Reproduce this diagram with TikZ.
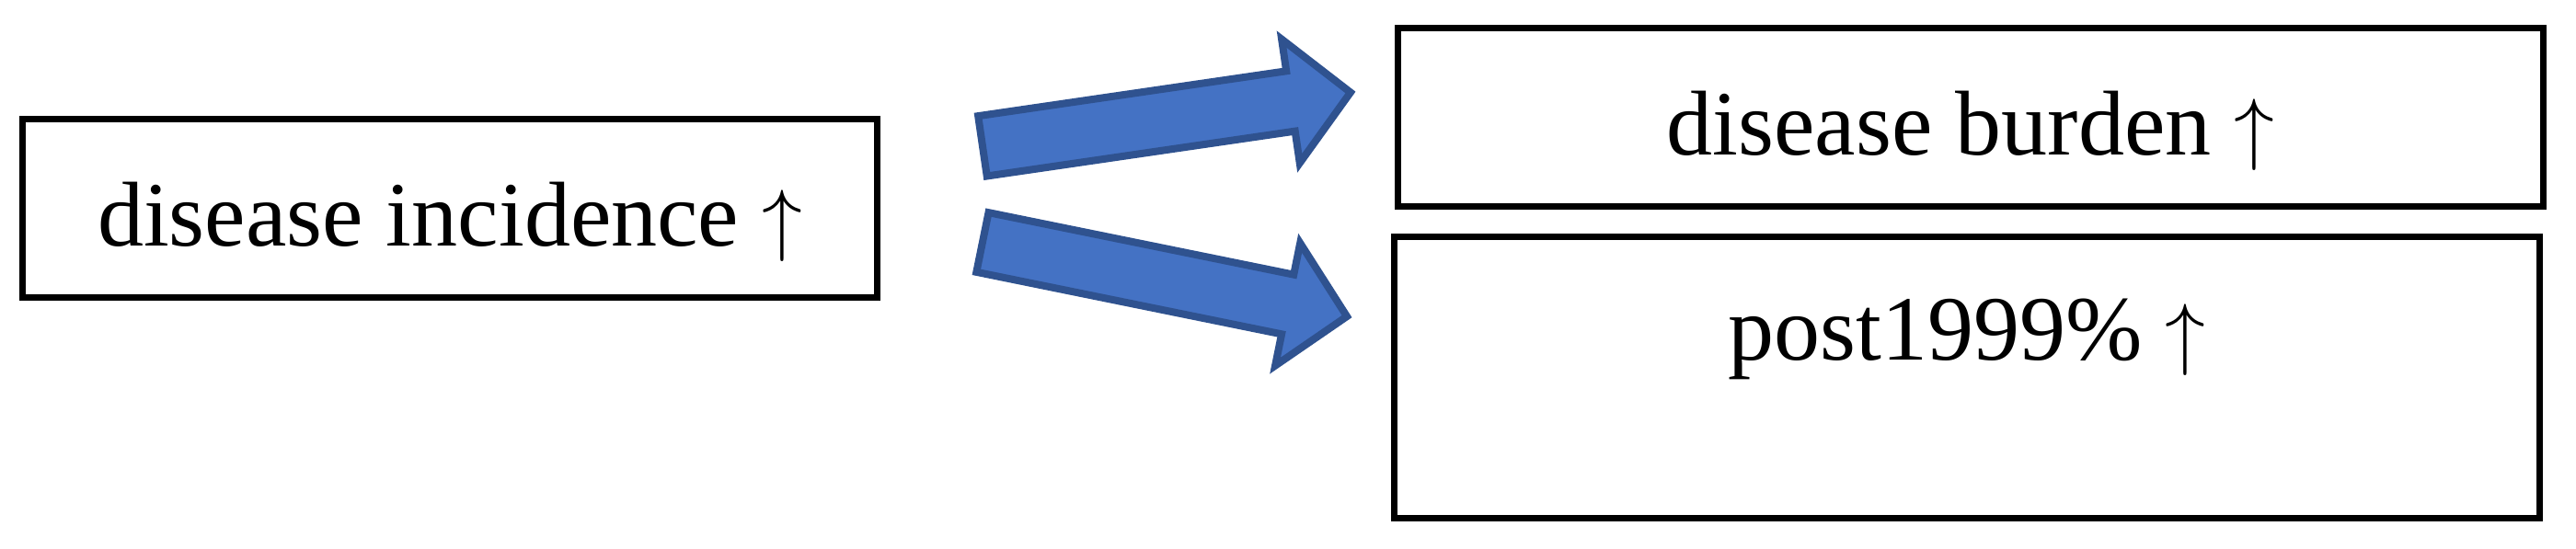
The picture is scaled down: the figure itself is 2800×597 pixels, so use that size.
\documentclass[tikz,border=0pt]{standalone}
\usepackage{fontspec}
\setmainfont{Liberation Serif}
\usetikzlibrary{shapes.arrows}
\definecolor{arrowfill}{HTML}{4472C4}
\definecolor{arrowedge}{HTML}{2F528F}
\newcommand{\rises}{ $\uparrow$}

\begin{document}
\begin{tikzpicture}[x=0.01cm,y=-0.01cm]
    \tikzstyle{box}=[draw, line width=2pt, inner sep=0pt, text height=1.375cm, text depth=0.565cm, font=\fontsize{28.45}{34}\selectfont]
    \tikzstyle{fatarrow}=[single arrow, draw=arrowedge, fill=arrowfill, line width=0.08cm, inner sep=0pt, text height=0.58cm, text depth=0pt, minimum height=4.04cm, minimum width=1.28cm, single arrow head extend=0.35cm, single arrow tip angle=92, anchor=tail]
    \useasboundingbox (0,0) rectangle (2800,597);
    \node[box, minimum width=9.29cm] (incidence) at (489,226.5) {disease incidence\rises};
    \node[box, minimum width=12.45cm] (burden) at (2142,127.5) {disease burden\rises};
    \node[box, minimum width=12.45cm, text height=1.345cm, text depth=1.715cm] (post) at (2138,410.5) {post1999\%\rises};
    \node[fatarrow, rotate=8.3] (toburden) at (1064,159.4) {};
    \node[fatarrow, rotate=-11.5] (topost) at (1064,262.7) {};
\end{tikzpicture}
\end{document}
